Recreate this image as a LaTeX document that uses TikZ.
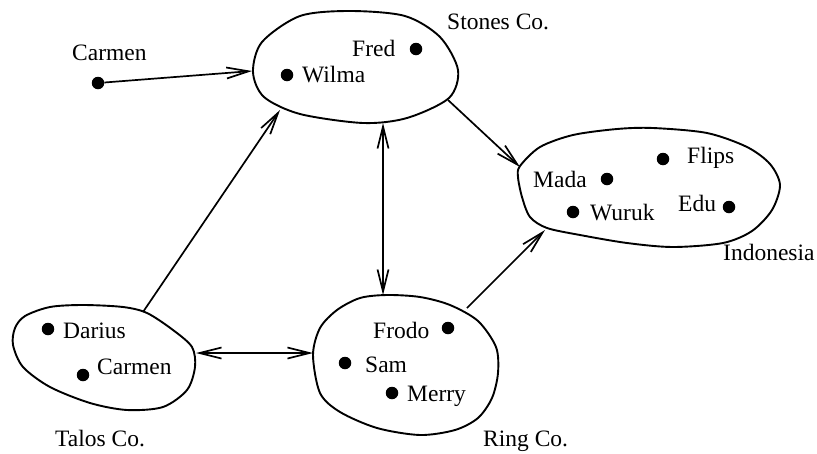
\documentclass[tikz,border=0pt]{standalone}
\usepackage{fontspec}
\setmainfont{Liberation Serif}
\usetikzlibrary{arrows.meta}
\begin{document}
\begin{tikzpicture}[x=1pt,y=-1pt,
  blob/.style={draw=black,line width=1.9pt,line join=round},
  member/.style={circle,fill=black,inner sep=0pt,minimum size=12.5pt},
  lbl/.style={anchor=base west,inner sep=0pt,font=\fontsize{23.5}{28}\selectfont},
  tip/.tip={Straight Barb[length=22pt,width=11pt,line width=1.7pt]},
  link/.style={line width=1.7pt,-tip},
  link2/.style={line width=1.7pt,tip-tip}]
\useasboundingbox (0,0) rectangle (817,453);

% groups
\draw[blob] plot[smooth cycle] coordinates {(253,72) (262,42) (300,16) (350,11) (405,16) (440,37) (458,70) (449,98) (407,118) (363,123) (300,114) (264,97)};
\draw[blob] plot[smooth cycle] coordinates {(520,166) (540,147) (573,135) (617,129) (653,128) (707,133) (747,147) (770,164) (780,185) (772,210) (752,231) (723,243) (673,247) (627,243) (580,235) (547,228) (530,217) (522,197) (518,177)};
\draw[blob] plot[smooth cycle] coordinates {(15,328) (25,316) (50,307) (83,305) (123,307) (147,313) (173,330) (192,347) (195,367) (187,390) (163,407) (127,410) (90,403) (50,387) (23,367) (13,345)};
\draw[blob] plot[smooth cycle] coordinates {(313,355) (320,328) (337,310) (360,298) (387,295) (420,297) (450,305) (478,321) (496,347) (498,373) (492,398) (478,418) (455,430) (420,435) (377,428) (340,412) (320,393)};

% group titles
\node[lbl] (tStones) at (447,29) {Stones Co.};
\node[lbl] (tIndo) at (723,260) {Indonesia};
\node[lbl] (tTalos) at (55,446) {Talos Co.};
\node[lbl] (tRing) at (483,446) {Ring Co.};

% members
\node[member] (carmenA) at (98,83) {};
\node[lbl] (lCarmenA) at (72,60) {Carmen};
\node[member] (fred) at (416,49) {};
\node[lbl] (lFred) at (352,56) {Fred};
\node[member] (wilma) at (287,75) {};
\node[lbl] (lWilma) at (302,82) {Wilma};
\node[member] (flips) at (663,159) {};
\node[lbl] (lFlips) at (687,163) {Flips};
\node[member] (mada) at (607,179) {};
\node[lbl] (lMada) at (533,187) {Mada};
\node[member] (wuruk) at (573,212) {};
\node[lbl] (lWuruk) at (590,220) {Wuruk};
\node[member] (edu) at (729,207) {};
\node[lbl] (lEdu) at (678,211) {Edu};
\node[member] (darius) at (48,329) {};
\node[lbl] (lDarius) at (63,338) {Darius};
\node[member] (carmenB) at (83,375) {};
\node[lbl] (lCarmenB) at (97,374) {Carmen};
\node[member] (frodo) at (448,328) {};
\node[lbl] (lFrodo) at (373,338) {Frodo};
\node[member] (sam) at (345,363) {};
\node[lbl] (lSam) at (365,372) {Sam};
\node[member] (merry) at (392,393) {};
\node[lbl] (lMerry) at (407,401) {Merry};

% attachment points on the group outlines
\coordinate (stonesW) at (252,71);
\coordinate (stonesSW) at (280,110);
\coordinate (stonesS) at (383,123);
\coordinate (stonesSE) at (448,100);
\coordinate (indoNW) at (520,167);
\coordinate (indoSW) at (545,230);
\coordinate (talosN) at (143,312);
\coordinate (talosE) at (196,353);
\coordinate (ringW) at (313,353);
\coordinate (ringN) at (383,295);
\coordinate (ringNE) at (467,308);

% relations
\draw[link] (carmenA) -- (stonesW);
\draw[link] (talosN) -- (stonesSW);
\draw[link2] (stonesS) -- (ringN);
\draw[link] (stonesSE) -- (indoNW);
\draw[link2] (talosE) -- (ringW);
\draw[link] (ringNE) -- (indoSW);
\end{tikzpicture}
\end{document}
